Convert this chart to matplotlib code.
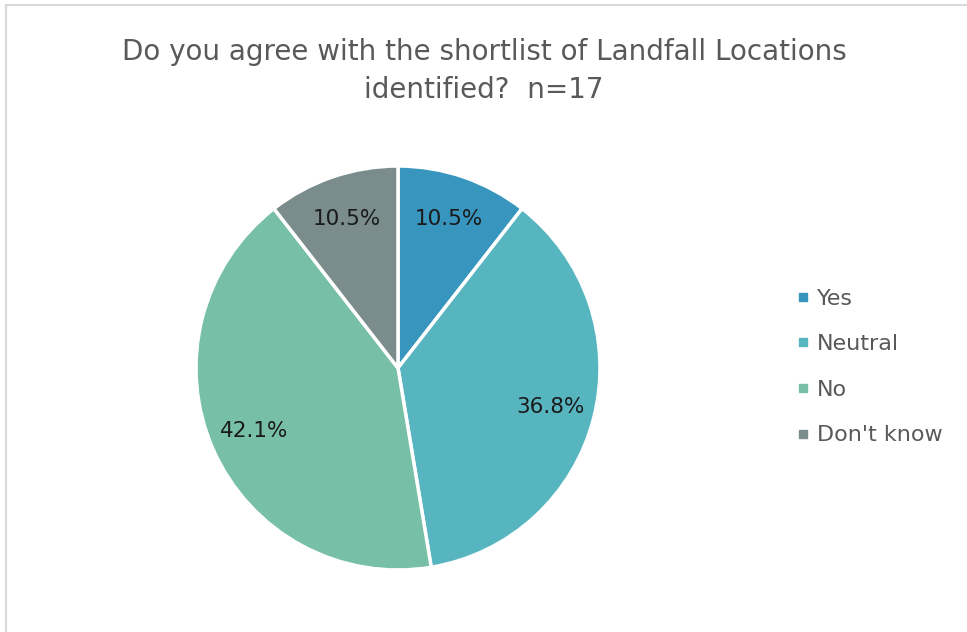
import matplotlib.pyplot as plt
from matplotlib.lines import Line2D

labels = ["Yes", "Neutral", "No", "Don't know"]
counts = [2, 7, 8, 2]
colors = ["#3896BE", "#57B5C0", "#77BFA7", "#7A8C8C"]

plt.rcParams['font.family'] = ['DejaVu Sans']

fig = plt.figure(figsize=(9.67, 6.32), dpi=100)
fig.patch.set_facecolor("white")

# outer chart frame (only top and left visible)
fig.add_artist(Line2D([6/967, 6/967], [0, 1 - 5/632], transform=fig.transFigure,
                      color="#d9d9d9", lw=1.5))
fig.add_artist(Line2D([6/967, 1], [1 - 5/632, 1 - 5/632], transform=fig.transFigure,
                      color="#d9d9d9", lw=1.5))

ax = fig.add_axes([194/967, 60/632, 408/967, 408/632])
wedges, texts, autotexts = ax.pie(counts, colors=colors, startangle=90, counterclock=False,
                                  autopct="%1.1f%%", pctdistance=0.78,
                                  wedgeprops=dict(edgecolor="white", linewidth=2.5),
                                  textprops=dict(fontsize=15.5, color="#1a1a1a"))
ax.set_xlim(-1.01, 1.01)
ax.set_ylim(-1.01, 1.01)
ax.set_aspect("equal")

fig.text(484/967, 1 - 52/632, "Do you agree with the shortlist of Landfall Locations",
         ha="center", va="center", fontsize=20, color="#595959")
fig.text(484/967, 1 - 90/632, "identified?  n=17",
         ha="center", va="center", fontsize=20, color="#595959")

handles = [Line2D([], [], marker="s", linestyle="", markersize=6, color=c) for c in colors]
fig.legend(handles, labels, loc="center left", bbox_to_anchor=(794/967, 1 - 367/632),
           frameon=False, fontsize=16, labelcolor="#595959", handletextpad=0.25,
           labelspacing=1.15, handlelength=0.8, borderpad=0, borderaxespad=0)

fig.savefig("out.png", dpi=100)
